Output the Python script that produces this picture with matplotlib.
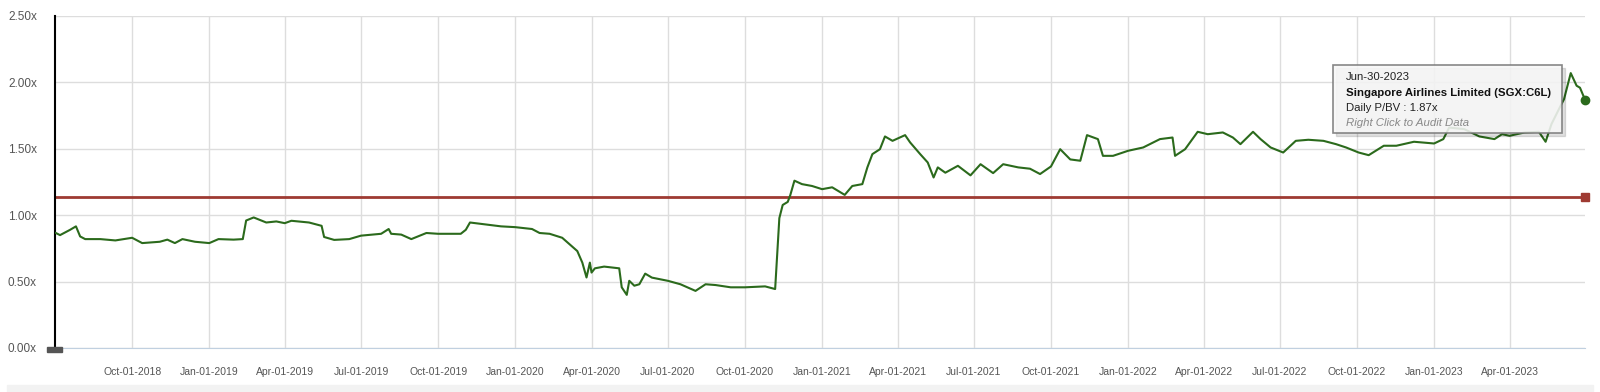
import numpy as np
import pandas as pd
from matplotlib import pyplot as plt
from matplotlib.patches import Rectangle

plt.rcParams['font.family'] = ['Liberation Sans', 'DejaVu Sans']

# daily P/BV
dates = ['2018-07-02', '2018-07-07', '2018-07-19', '2018-07-26', '2018-07-31', '2018-08-06',
         '2018-08-24', '2018-09-11', '2018-10-01', '2018-10-13', '2018-11-03', '2018-11-12',
         '2018-11-21', '2018-11-30', '2018-12-15', '2019-01-01', '2019-01-12', '2019-01-30',
         '2019-02-10', '2019-02-14', '2019-02-23', '2019-03-10', '2019-03-22', '2019-04-01',
         '2019-04-09', '2019-04-30', '2019-05-15', '2019-05-18', '2019-05-30', '2019-06-17',
         '2019-07-01', '2019-07-25', '2019-08-03', '2019-08-06', '2019-08-18', '2019-08-30',
         '2019-09-17', '2019-10-01', '2019-10-28', '2019-11-03', '2019-11-08', '2019-11-21',
         '2019-12-15', '2020-01-01', '2020-01-21', '2020-01-30', '2020-02-11', '2020-02-26',
         '2020-03-06', '2020-03-15', '2020-03-21', '2020-03-26', '2020-03-30', '2020-04-01',
         '2020-04-05', '2020-04-16', '2020-05-04', '2020-05-07', '2020-05-13', '2020-05-16',
         '2020-05-22', '2020-05-28', '2020-06-04', '2020-06-12', '2020-07-01', '2020-07-16',
         '2020-08-03', '2020-08-15', '2020-08-27', '2020-09-14', '2020-10-01', '2020-10-25',
         '2020-11-06', '2020-11-11', '2020-11-15', '2020-11-21', '2020-11-24', '2020-11-29',
         '2020-12-08', '2020-12-20', '2021-01-01', '2021-01-13', '2021-01-28', '2021-02-06',
         '2021-02-18', '2021-02-24', '2021-03-02', '2021-03-11', '2021-03-17', '2021-03-26',
         '2021-04-10', '2021-04-16', '2021-04-28', '2021-05-07', '2021-05-14', '2021-05-19',
         '2021-05-28', '2021-06-12', '2021-06-27', '2021-07-09', '2021-07-24', '2021-08-05',
         '2021-08-23', '2021-09-06', '2021-09-18', '2021-10-01', '2021-10-12', '2021-10-24',
         '2021-11-05', '2021-11-13', '2021-11-26', '2021-12-02', '2021-12-14', '2022-01-01',
         '2022-01-19', '2022-02-08', '2022-02-23', '2022-02-26', '2022-03-10', '2022-03-25',
         '2022-04-06', '2022-04-24', '2022-05-06', '2022-05-15', '2022-05-30', '2022-06-08',
         '2022-06-20', '2022-07-05', '2022-07-20', '2022-08-04', '2022-08-22', '2022-09-06',
         '2022-09-18', '2022-10-03', '2022-10-15', '2022-11-02', '2022-11-17', '2022-12-08',
         '2023-01-01', '2023-01-12', '2023-01-19', '2023-02-06', '2023-02-24', '2023-03-14',
         '2023-03-23', '2023-04-01', '2023-04-19', '2023-05-06', '2023-05-14', '2023-05-21',
         '2023-05-30', '2023-06-05', '2023-06-13', '2023-06-20', '2023-06-24', '2023-06-30']
pbv = [0.866, 0.85, 0.89, 0.916, 0.84, 0.82,
       0.82, 0.81, 0.83, 0.79, 0.80, 0.816,
       0.79, 0.82, 0.80, 0.79, 0.82, 0.816,
       0.82, 0.96, 0.983, 0.945, 0.953, 0.94,
       0.958, 0.945, 0.92, 0.836, 0.814, 0.82,
       0.846, 0.86, 0.896, 0.86, 0.854, 0.82,
       0.866, 0.86, 0.86, 0.89, 0.945, 0.935,
       0.916, 0.91, 0.896, 0.866, 0.86, 0.83,
       0.78, 0.73, 0.643, 0.531, 0.643, 0.568,
       0.60, 0.613, 0.60, 0.457, 0.40, 0.506,
       0.469, 0.48, 0.56, 0.53, 0.506, 0.48,
       0.43, 0.48, 0.474, 0.457, 0.457, 0.464,
       0.444, 0.978, 1.077, 1.10, 1.15, 1.26,
       1.234, 1.22, 1.196, 1.21, 1.153, 1.22,
       1.234, 1.36, 1.46, 1.497, 1.593, 1.56,
       1.603, 1.548, 1.46, 1.397, 1.284, 1.36,
       1.32, 1.372, 1.30, 1.384, 1.317, 1.384,
       1.36, 1.35, 1.31, 1.367, 1.497, 1.42,
       1.41, 1.603, 1.573, 1.447, 1.447, 1.485,
       1.51, 1.573, 1.585, 1.447, 1.497, 1.628,
       1.61, 1.623, 1.585, 1.535, 1.628, 1.573,
       1.51, 1.472, 1.56, 1.568, 1.56, 1.535,
       1.51, 1.472, 1.452, 1.523, 1.523, 1.553,
       1.54, 1.573, 1.66, 1.648, 1.593, 1.573,
       1.61, 1.598, 1.623, 1.628, 1.553, 1.686,
       1.80, 1.874, 2.07, 1.975, 1.96, 1.87]
avg_pbv = 1.14

yticks = [0, 0.5, 1.0, 1.5, 2.0, 2.5]
xtick_dates = ['2018-10-01', '2019-01-01', '2019-04-01', '2019-07-01', '2019-10-01',
               '2020-01-01', '2020-04-01', '2020-07-01', '2020-10-01', '2021-01-01',
               '2021-04-01', '2021-07-01', '2021-10-01', '2022-01-01', '2022-04-01',
               '2022-07-01', '2022-10-01', '2023-01-01', '2023-04-01']

d = pd.to_datetime(dates)
xt = pd.to_datetime(xtick_dates)
x0, x1 = pd.Timestamp('2018-07-01'), pd.Timestamp('2023-06-30')

W, H = 1600, 392
fig = plt.figure(figsize=(16, 3.92), dpi=100)
ax = fig.add_axes([55 / W, (H - 348) / H, 1530 / W, 332 / H])

green = '#2b6a1c'
red = '#9e3a32'

ax.plot(d, pbv, color=green, lw=1.5, zorder=3)
ax.plot(d[-1], pbv[-1], 'o', color=green, ms=6, clip_on=False, zorder=4)
ax.plot([x0, x1], [avg_pbv, avg_pbv], color=red, lw=2, zorder=2)
ax.plot(x1, avg_pbv, 's', color=red, ms=6, clip_on=False, zorder=4)

ax.set_xlim(x0, x1)
ax.set_ylim(0, 2.5)
ax.set_yticks(yticks)
ax.set_yticklabels(['%.2fx' % v for v in yticks])
ax.set_xticks(xt)
ax.set_xticklabels([t.strftime('%b-%d-%Y') for t in xt])
ax.grid(True, color='#dddddd', lw=1)
ax.set_axisbelow(True)
ax.tick_params(length=0, colors='#555555')
ax.tick_params(axis='x', labelsize=7.5, pad=14)
ax.tick_params(axis='y', labelsize=8.5, pad=13)
for s in ['top', 'right']:
    ax.spines[s].set_visible(False)
ax.spines['left'].set_color('black')
ax.spines['left'].set_linewidth(1.5)
ax.spines['bottom'].set_color('#c0d0e0')

# navigator handle at the bottom of the y axis
fig.patches.append(Rectangle((47 / W, (H - 352) / H), 15 / W, 5 / H,
                             transform=fig.transFigure, color='#555555', zorder=5))
# grey strip at the bottom
fig.patches.append(Rectangle((7 / W, 0), 1586 / W, 7 / H,
                             transform=fig.transFigure, color='#f2f2f2', zorder=0))

# tooltip
bx, by, bw, bh = 1333, 65, 229, 68
fig.patches.append(Rectangle(((bx + 3) / W, (H - by - bh - 3) / H), bw / W, bh / H,
                             transform=fig.transFigure, color='#000000', alpha=0.12, zorder=6))
fig.patches.append(Rectangle((bx / W, (H - by - bh) / H), bw / W, bh / H,
                             transform=fig.transFigure, facecolor='#f7f7f7', alpha=0.88,
                             edgecolor='#777777', lw=1.2, zorder=7))
tx = (bx + 13) / W
fig.text(tx, (H - 77) / H, 'Jun-30-2023', fontsize=8.2, color='#222222', va='center', zorder=8)
fig.text(tx, (H - 93) / H, 'Singapore Airlines Limited (SGX:C6L)', fontsize=8.2,
         fontweight='bold', color='#111111', va='center', zorder=8)
fig.text(tx, (H - 108) / H, 'Daily P/BV : 1.87x', fontsize=8.2, color='#222222', va='center', zorder=8)
fig.text(tx, (H - 123) / H, 'Right Click to Audit Data', fontsize=8.2, style='italic',
         color='#888888', va='center', zorder=8)

plt.savefig('out.png', dpi=100)
